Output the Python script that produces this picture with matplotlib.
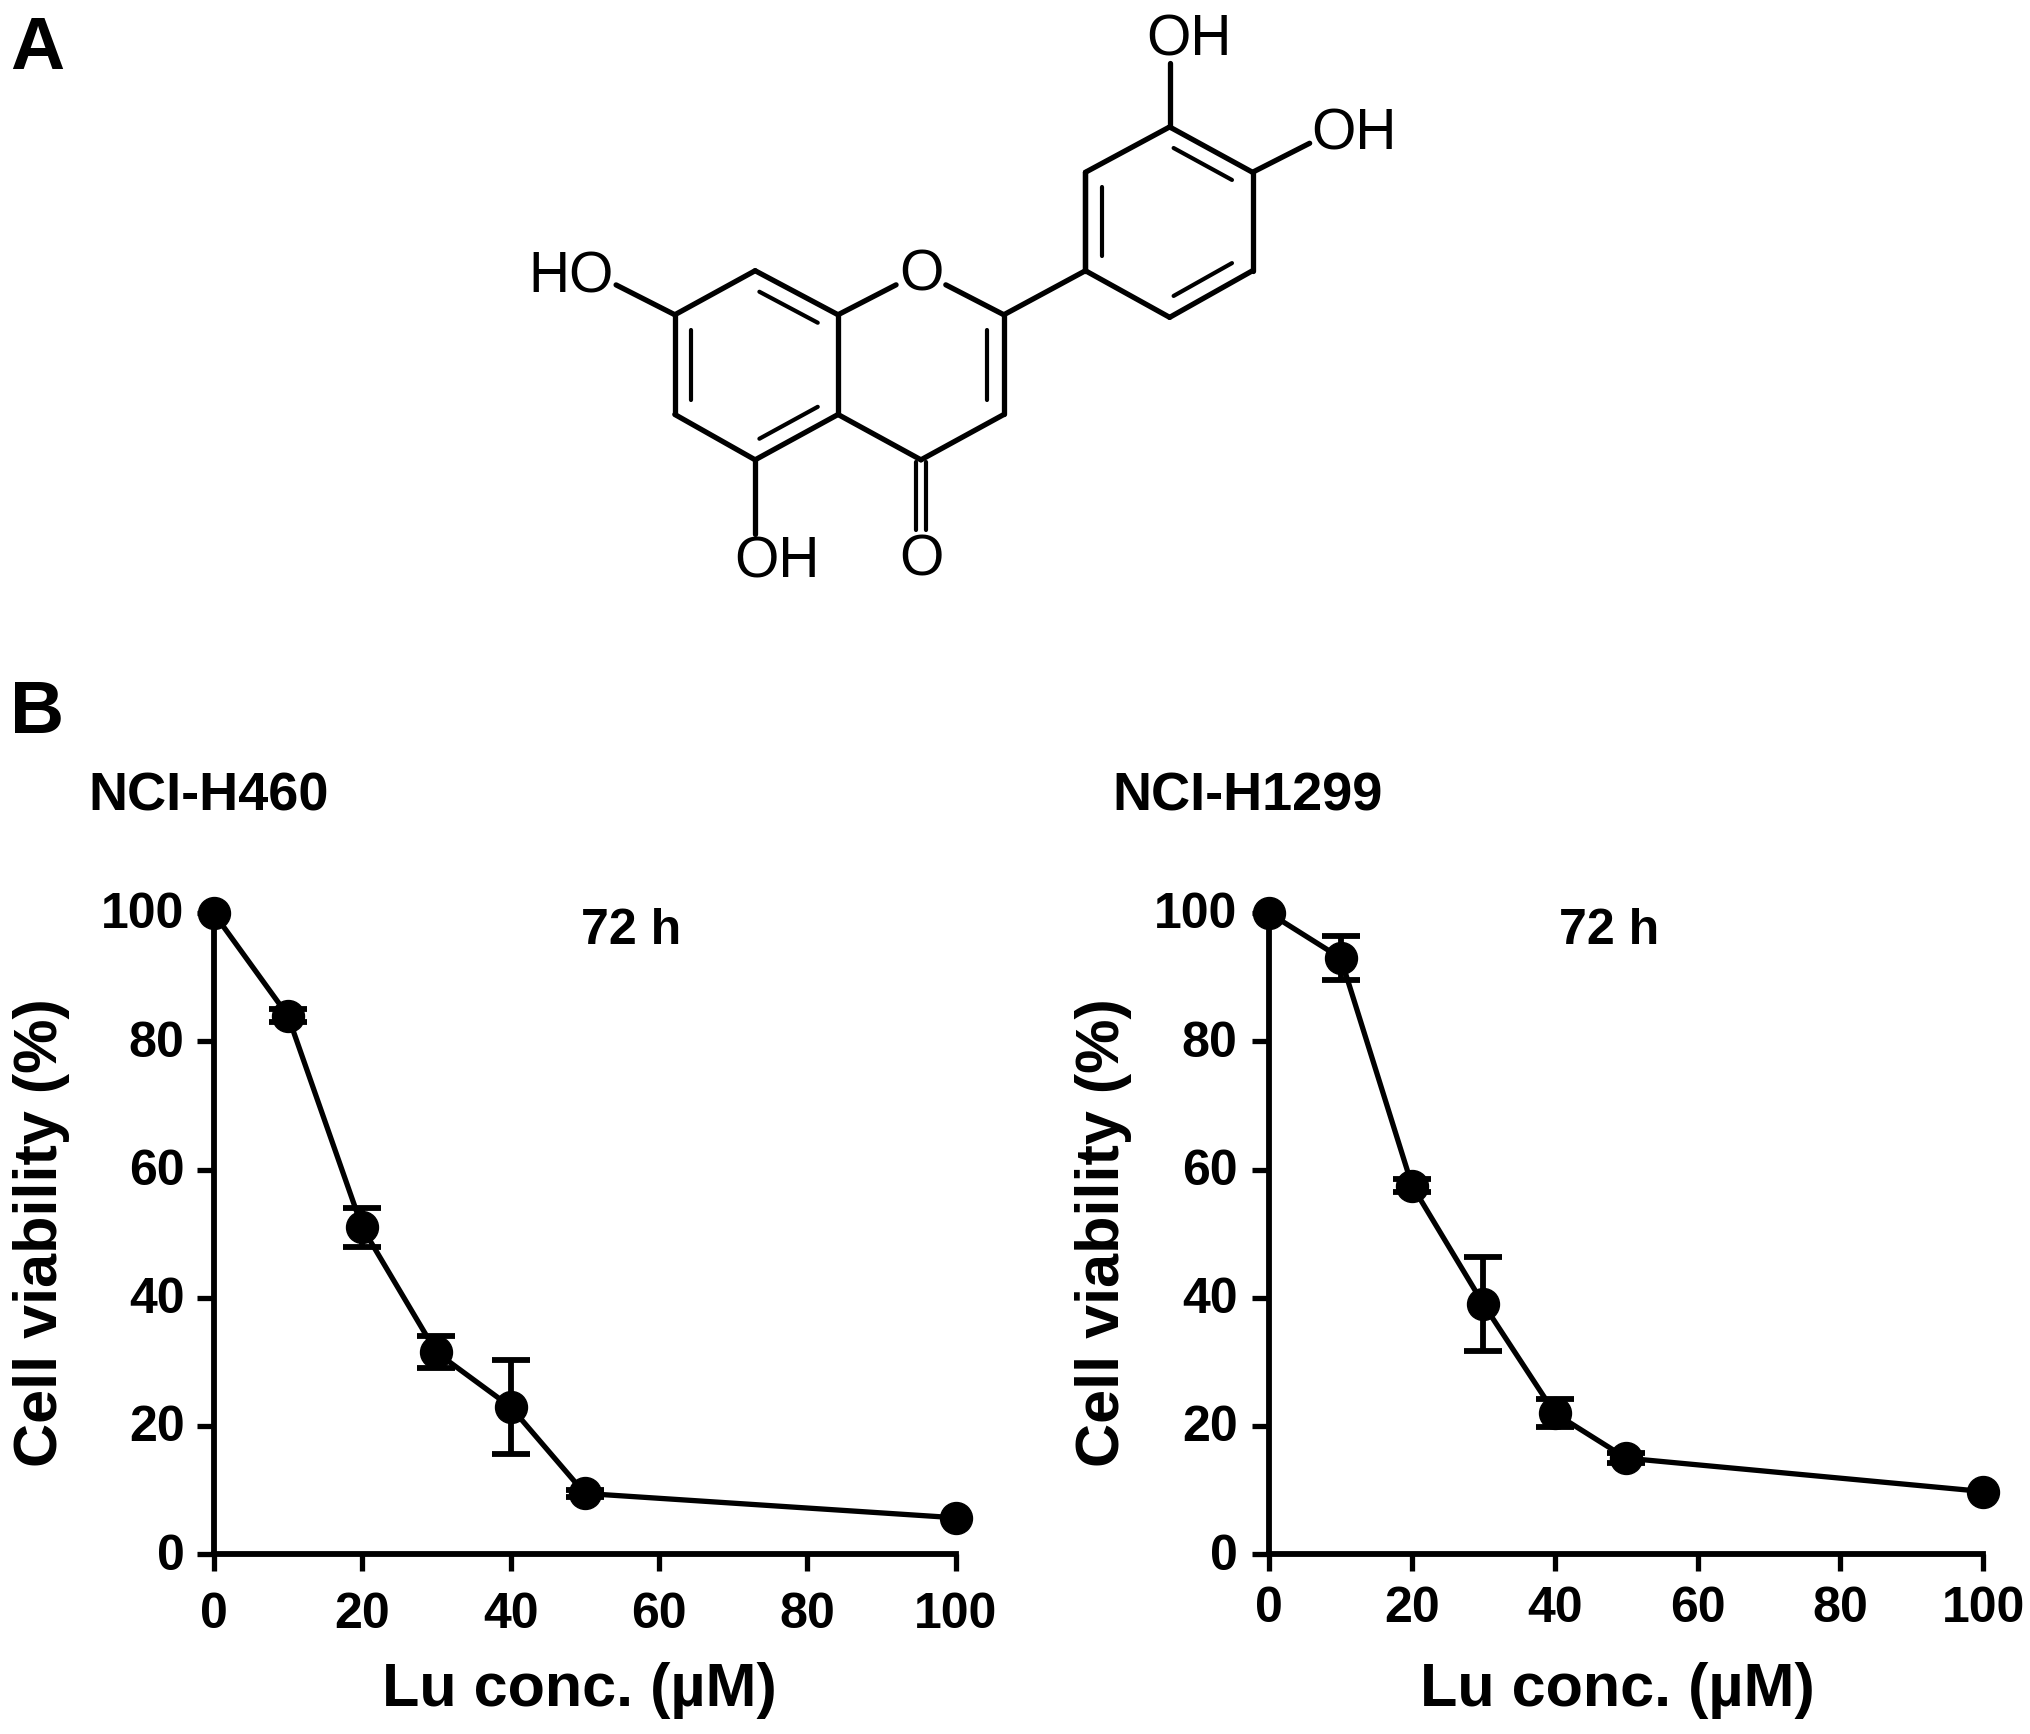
import matplotlib
matplotlib.use("Agg")
import matplotlib.pyplot as plt
from matplotlib.transforms import ScaledTranslation

plt.rcParams['font.family'] = ['Liberation Sans', 'DejaVu Sans']

W, H = 2031, 1734
S = 2031 / 1568

# Data
conc = [0, 10, 20, 30, 40, 50, 100]
h460_mean = [100, 84, 51, 31.5, 23, 9.5, 5.7]
h460_err = [0, 1.0, 3.0, 2.5, 7.3, 0.6, 0]
h1299_mean = [100, 93, 57.5, 39, 22, 15, 9.8]
h1299_err = [0, 3.5, 1.0, 7.3, 2.2, 0.8, 0]
ticks = [0, 20, 40, 60, 80, 100]
panel_titles = ["NCI-H460", "NCI-H1299"]
xlabel_text = "Lu conc. (µM)"
ylabel_text = "Cell viability (%)"
time_text = "72 h"

# Molecule: atom positions
atoms = {
    'C7': (521, 243), 'C8': (583, 209), 'C8a': (647, 243), 'C4a': (647, 320),
    'C5': (583, 355), 'C6': (521, 320), 'O1': (711, 210), 'C2': (775, 243),
    'C3': (775, 320), 'C4': (711, 355), 'O4': (711, 430), 'C1p': (838, 209),
    'C2p': (838, 133), 'C3p': (903, 98), 'C4p': (967, 133), 'C5p': (967, 209),
    'C6p': (903, 245), 'O3p': (903, 28), 'O4p': (1030, 101), 'O7': (458, 211),
    'O5': (583, 431),
}
single_bonds = [
    ('C7', 'C8'), ('C8a', 'C4a'), ('C5', 'C6'), ('C4a', 'C4'), ('C4', 'C3'),
    ('C2', 'C1p'), ('C1p', 'C2p'), ('C2p', 'C3p'), ('C4p', 'C5p'), ('C6p', 'C1p'),
]
inner_double = [
    ('C8', 'C8a'), ('C6', 'C7'), ('C4a', 'C5'), ('C2', 'C3'),
    ('C2p', 'C1p'), ('C3p', 'C4p'), ('C5p', 'C6p'),
]
hetero_bonds = [
    ('C8a', 'O1', 0.0, 0.70), ('O1', 'C2', 0.30, 1.0), ('C7', 'O7', 0.0, 0.72),
    ('C5', 'O5', 0.0, 0.75), ('C3p', 'O3p', 0.0, 0.70), ('C4p', 'O4p', 0.0, 0.70),
]
mol_labels = [(918, 31, 'OH'), (1045, 104, 'OH'), (441, 214, 'HO'),
              (600, 434, 'OH'), (711, 433, 'O'), (711, 213, 'O')]

fig = plt.figure(figsize=(W / 100, H / 100), dpi=100, facecolor='white')

ov = fig.add_axes([0, 0, 1, 1])
ov.set_xlim(0, W)
ov.set_ylim(H, 0)
ov.axis('off')

def P(name):
    x, y = atoms[name]
    return x * S, y * S

def seg(a, b, lw=3.8):
    ov.plot([a[0], b[0]], [a[1], b[1]], color='black', lw=lw,
            solid_capstyle='round')

for a, b in single_bonds:
    seg(P(a), P(b))

centres = {'A': (584, 282), 'C': (711, 282), 'B': (903, 171)}
for a, b in inner_double:
    pa, pb = P(a), P(b)
    seg(pa, pb)
    if (a, b) == ('C2', 'C3'):
        c = centres['C']
    elif a in ('C2p', 'C3p', 'C5p'):
        c = centres['B']
    else:
        c = centres['A']
    c = (c[0] * S, c[1] * S)
    f = 0.2
    qa = (pa[0] + (c[0] - pa[0]) * f, pa[1] + (c[1] - pa[1]) * f)
    qb = (pb[0] + (c[0] - pb[0]) * f, pb[1] + (c[1] - pb[1]) * f)
    seg((qa[0] + (qb[0] - qa[0]) * 0.06, qa[1] + (qb[1] - qa[1]) * 0.06),
        (qa[0] + (qb[0] - qa[0]) * 0.94, qa[1] + (qb[1] - qa[1]) * 0.94),
        lw=3.0)

for a, b, t0, t1 in hetero_bonds:
    pa, pb = P(a), P(b)
    seg((pa[0] + (pb[0] - pa[0]) * t0, pa[1] + (pb[1] - pa[1]) * t0),
        (pa[0] + (pb[0] - pa[0]) * t1, pa[1] + (pb[1] - pa[1]) * t1))

c4 = P('C4')
for dx in (-5, 5):
    seg((c4[0] + dx, c4[1] + 2), (c4[0] + dx, c4[1] + 70), lw=3.0)

for x, y, s in mol_labels:
    ov.text(x * S, y * S, s, fontsize=41, ha='center', va='center', color='black')

ov.text(8 * S, 38 * S, 'A', fontsize=54, fontweight='bold', ha='left', va='center')
ov.text(8 * S, 551 * S, 'B', fontsize=54, fontweight='bold', ha='left', va='center')

# Panels
y0_px, y100_px = 1200 * S, 705 * S
panels = [
    dict(x0=165 * S, x100=738 * S, mean=h460_mean, err=h460_err, title=panel_titles[0],
         title_x=68 * S, time_x=487 * S, xl_x=447 * S, yl_x=32 * S, xpad=15, ypad=9),
    dict(x0=980 * S, x100=1531 * S, mean=h1299_mean, err=h1299_err, title=panel_titles[1],
         title_x=859 * S, time_x=1242 * S, xl_x=1249 * S, yl_x=852 * S, xpad=11, ypad=11),
]

for p in panels:
    ax = fig.add_axes([p['x0'] / W, 1 - y0_px / H,
                       (p['x100'] - p['x0']) / W, (y0_px - y100_px) / H])
    ax.set_xlim(0, 100)
    ax.set_ylim(0, 100)
    ax.patch.set_alpha(0)
    for side in ('top', 'right'):
        ax.spines[side].set_visible(False)
    for side in ('left', 'bottom'):
        ax.spines[side].set_linewidth(4.2)
    ax.set_xticks(ticks)
    ax.set_yticks(ticks)
    ax.tick_params(axis='both', length=12, width=3.8, labelsize=36)
    ax.tick_params(axis='x', pad=p['xpad'])
    ax.tick_params(axis='y', pad=p['ypad'])
    for lab in ax.get_xticklabels() + ax.get_yticklabels():
        lab.set_fontweight('bold')
    up = ScaledTranslation(0, 2 / 72, fig.dpi_scale_trans)
    for lab in ax.get_yticklabels():
        lab.set_transform(lab.get_transform() + up)
    ax.plot(conc, p['mean'], color='black', lw=3.8, marker='o', ms=23,
            clip_on=False, zorder=5)
    ex = [c for c, e in zip(conc, p['err']) if e > 0]
    ey = [m for m, e in zip(p['mean'], p['err']) if e > 0]
    ee = [e for e in p['err'] if e > 0]
    ax.errorbar(ex, ey, yerr=ee, color='black', ls='none', capsize=13.5,
                capthick=4.2, elinewidth=4.2, clip_on=False, zorder=5)
    ov.text(p['title_x'], 615 * S, p['title'], fontsize=39, fontweight='bold',
            ha='left', va='center')
    ov.text(p['time_x'], 719 * S, time_text, fontsize=36, fontweight='bold',
            ha='center', va='center')
    ov.text(p['xl_x'], 1305 * S, xlabel_text, fontsize=44, fontweight='bold',
            ha='center', va='center')
    ov.text(p['yl_x'], 952 * S, ylabel_text, fontsize=44, fontweight='bold',
            rotation=90, ha='center', va='center')

fig.savefig('out.png', dpi=100, facecolor='white')
